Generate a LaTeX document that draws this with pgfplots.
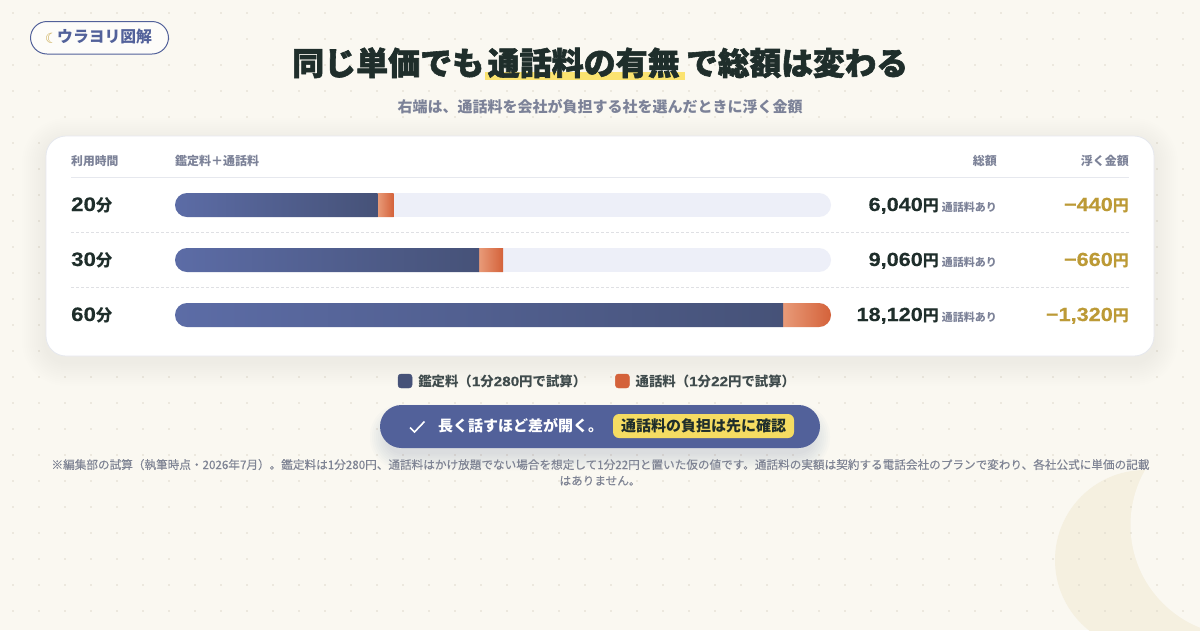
\documentclass[border=0pt]{standalone}
\usepackage{pgfplots}
\pgfplotsset{compat=1.18}
\usepackage{pgfplotstable}
\usepackage{fontspec}
\setmainfont{Noto Sans CJK JP}
\newfontfamily\jp{Noto Sans CJK JP}
\newfontfamily\jpm{Noto Sans CJK JP}[FakeBold=0.25]
\newfontfamily\jph{Noto Sans CJK JP}[BoldFeatures={FakeBold=1.8}]
\newfontfamily\lat{Liberation Sans}[FakeStretch=1.14,BoldFeatures={FakeBold=0.4}]
\newfontfamily\dv{DejaVu Sans}
\definecolor{bg}{HTML}{FAF8F1}
\definecolor{dot}{HTML}{DED9CB}
\definecolor{moon}{HTML}{F5F0E0}
\definecolor{ink}{HTML}{1F2E2B}
\definecolor{muted}{HTML}{7C8298}
\definecolor{indigo}{HTML}{52619A}
\definecolor{barL}{HTML}{5C6CA6}
\definecolor{barR}{HTML}{465278}
\definecolor{orL}{HTML}{E89A78}
\definecolor{orR}{HTML}{D4623A}
\definecolor{gold}{HTML}{BC9A36}
\definecolor{track}{HTML}{EDEFF8}
\definecolor{hl}{HTML}{FBE370}
\definecolor{chip}{HTML}{F5DC62}
\definecolor{legendtxt}{HTML}{3F4B4C}
\definecolor{footer}{HTML}{7F8494}
\definecolor{rule}{HTML}{E6E8EE}
\pgfplotstableread{
row full
2 18120
1 18120
0 18120
}\tracks
\pgfplotstableread{
row kantei tsuwa
0 5600 440
}\rowA
\pgfplotstableread{
row kantei tsuwa
0 8400 660
}\rowB
\pgfplotstableread{
row kantei tsuwa
0 16800 1320
}\rowC
\newcommand{\T}[6][]{\node[inner sep=0pt,anchor=#2,#1] at (#3,#4) {#5#6};}
\newcommand{\fs}[1]{\fontsize{#1}{#1}\selectfont}
\newcommand{\rowbar}[2]{% centre y in px from top, table
  \begin{scope}
  \clip[rounded corners=12pt] (175,-#1-12) rectangle (831,-#1+12);
  \begin{axis}[at={(175pt,-#1pt-12pt)},anchor=south west,scale only axis,
    width=656pt,height=24pt,xmin=0,xmax=18120,ymin=-0.5,ymax=0.5,
    hide axis,clip=false,bar width=24pt,xbar stacked]
  \addplot[draw=none,left color=barL,right color=barR] table[x=kantei,y=row]{#2};
  \addplot[draw=none,left color=orL,right color=orR] table[x=tsuwa,y=row]{#2};
  \end{axis}
  \end{scope}}
\begin{document}
\begin{tikzpicture}[x=1pt,y=1pt]
\useasboundingbox (0,0) rectangle (1200,-630);
\begin{scope}[y=-1pt]
\clip (0,0) rectangle (1200,630);
\fill[bg] (0,0) rectangle (1200,630);
\fill[moon] (1145,560) circle (90);
\fill[bg] (1241,525) circle (110.5);
\foreach \i in {0,...,45}{\foreach \j in {0,...,23}{
  \fill[dot] (13+26*\i,13+26*\j) circle (0.9);}}
% card shadow
\foreach \k in {24,22,...,2}{
  \fill[black,opacity=0.0035,rounded corners=\k+20] (46-\k,136-\k+6) rectangle (1154+\k,356+\k+6);}
\draw[rule,fill=white,line width=0.8,rounded corners=20] (46,136) rectangle (1154,356);
% header rules
\draw[rule,line width=1] (71,177.5) -- (1129,177.5);
\draw[rule!80!gray!70,line width=0.8,dash pattern=on 3pt off 2pt] (71,232.5) -- (1129,232.5);
\draw[rule!80!gray!70,line width=0.8,dash pattern=on 3pt off 2pt] (71,287.5) -- (1129,287.5);
% badge
\draw[indigo,fill=bg!40!white,line width=1,rounded corners=16.5] (30.5,21.5) rectangle (168.5,54);
% highlight
\fill[hl] (485,71.5) rectangle (685,80);
% pill shadow and pill
\foreach \k in {18,16,...,2}{
  \fill[indigo,opacity=0.02,rounded corners=\k+14] (388-\k,412-\k+10) rectangle (812+\k,442+\k+10);}
\fill[indigo,rounded corners=21.5] (380,405) rectangle (820,448);
\fill[chip,rounded corners=6] (613,414) rectangle (794,438);
\draw[white,line width=1.6] (410,427.5) -- (414.5,432) -- (424.5,421.5);
\end{scope}

% tracks and legend
\begin{axis}[at={(175pt,-342.5pt)},anchor=south west,scale only axis,
  width=656pt,height=165pt,xmin=0,xmax=18120,ymin=-0.5,ymax=2.5,
  hide axis,clip=false,bar width=24pt,
  legend columns=2,
  legend cell align=left,
  legend style={at={(0.6425,-0.2333)},anchor=center,draw=none,fill=none,inner sep=0pt,outer sep=0pt,
    /tikz/every even column/.append style={column sep=29pt},
    nodes={inner sep=0pt,font=\jp\bfseries\fs{13.4}\color{legendtxt}}}]
\clip[rounded corners=12pt]
  (axis cs:0,1.782) rectangle (axis cs:18120,2.218)
  (axis cs:0,0.782) rectangle (axis cs:18120,1.218)
  (axis cs:0,-0.218) rectangle (axis cs:18120,0.218);
\addplot[forget plot,xbar,draw=none,fill=track] table[x=full,y=row]{\tracks};
\addlegendimage{legend image code/.code={\fill[barR,rounded corners=3pt] (0pt,-7pt) rectangle (14pt,7pt);\path (20pt,0pt);}}
\addlegendentry{鑑定料（{\lat 1}分{\lat 280}円で試算）}
\addlegendimage{legend image code/.code={\fill[orR,rounded corners=3pt] (0pt,-7pt) rectangle (14pt,7pt);\path (20pt,0pt);}}
\addlegendentry{通話料（{\lat 1}分{\lat 22}円で試算）}
\end{axis}
\rowbar{205}{\rowA}
\rowbar{260}{\rowB}
\rowbar{315}{\rowC}

\begin{scope}[y=-1pt]
% title
\T{base west}{292}{75}{\jph\bfseries\fs{32}\color{ink}}{同じ単価でも}
\T{base west}{487.5}{75}{\jph\bfseries\fs{32}\color{ink}}{通話料の有無}
\T{base west}{686}{75}{\jph\bfseries\fs{31.7}\color{ink}}{で総額は変わる}
\T{base}{600}{112.5}{\jp\bfseries\fs{15}\color{muted}}{右端は、通話料を会社が負担する社を選んだときに浮く金額}
% badge text
\T{base}{51.5}{43}{\dv\fs{14}\color[HTML]{C9A94F}}{☾}
\T{base west}{57}{42.5}{\jp\bfseries\fs{15.8}\color{indigo}}{ウラヨリ図解}
% header
\T{base west}{71}{165.5}{\jp\bfseries\fs{11.8}\color{muted}}{利用時間}
\T{base west}{175}{165.5}{\jp\bfseries\fs{12}\color{muted}}{鑑定料＋通話料}
\T{base east}{997}{165.5}{\jp\bfseries\fs{12}\color{muted}}{総額}
\T{base east}{1129}{165.5}{\jp\bfseries\fs{12}\color{muted}}{浮く金額}
% rows
\foreach \yy/\m/\tot/\sv in {211/20/{6,040}/{−440},266/30/{9,060}/{−660},321/60/{18,120}/{−1,320}}{
  \T{base west}{71}{\yy}{\bfseries\fs{19.5}\color{ink}}{{\lat\m}{\jp\fs{16.5}分}}
  \T{base east}{939}{\yy}{\bfseries\fs{19}\color{ink}}{{\lat\tot}{\jp\fs{16}円}}
  \T{base east}{997}{\yy}{\jp\bfseries\fs{11}\color{muted}}{通話料あり}
  \T{base east}{1129}{\yy}{\bfseries\fs{19}\color{gold}}{{\lat\sv}{\jp\fs{16}円}}
}
% pill text
\T{base west}{438}{431.5}{\jp\bfseries\fs{15}\color{white}}{長く話すほど差が開く。}
\T{base}{703.5}{431.5}{\jp\bfseries\fs{15}\color{ink}}{通話料の負担は先に確認}
% footer
\T{base}{600.5}{469}{\jpm\fs{11.62}\color{footer}}{※編集部の試算（執筆時点・2026年7月）。鑑定料は1分280円、通話料はかけ放題でない場合を想定して1分22円と置いた仮の値です。通話料の実額は契約する電話会社のプランで変わり、各社公式に単価の記載}
\T{base}{600}{485}{\jpm\fs{11.62}\color{footer}}{はありません。}
\end{scope}
\end{tikzpicture}
\end{document}
